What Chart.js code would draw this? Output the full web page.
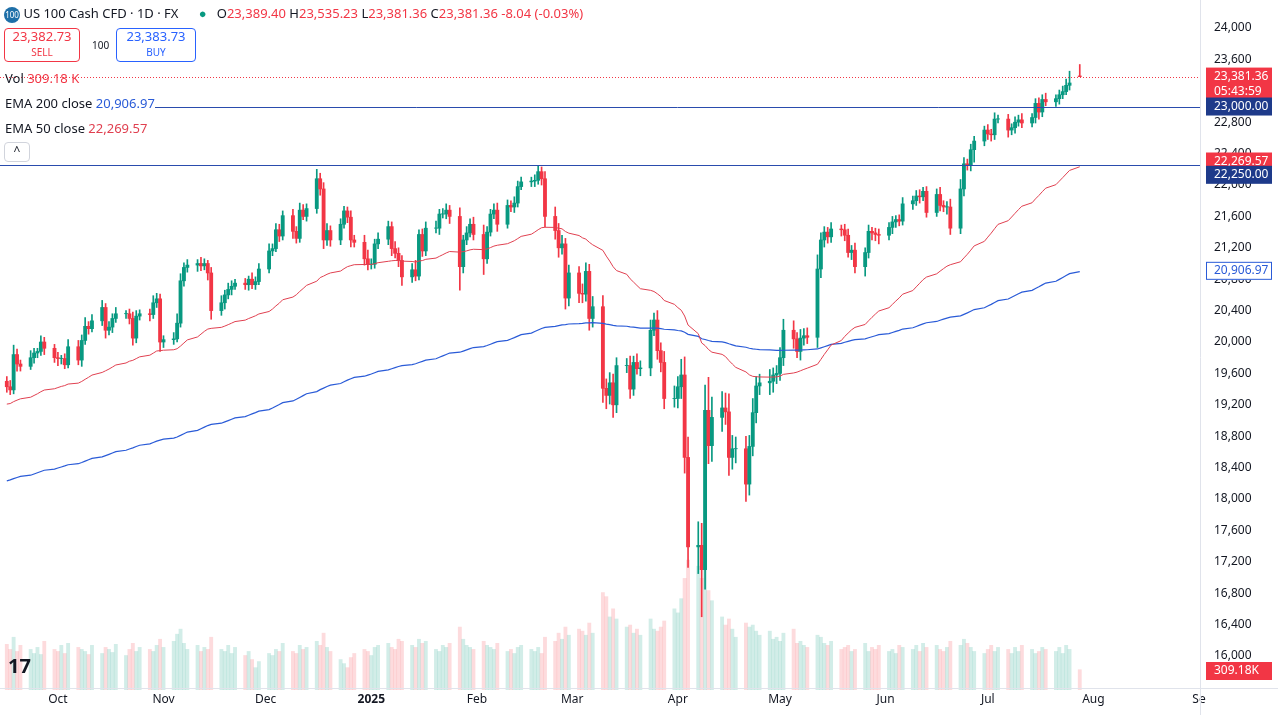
<!DOCTYPE html>
<html><head><meta charset="utf-8">
<script src="https://cdn.jsdelivr.net/npm/chart.js@4.4.1/dist/chart.umd.min.js"></script>
<style>
body{margin:0;background:#fff;font-family:"Noto Sans",Roboto,sans-serif;}
#wrap{position:relative;width:1278px;height:715px;}
canvas{position:absolute;left:0;top:0;}
.t{position:absolute;font-size:13px;color:#131722;white-space:nowrap;}
.box{position:absolute;border:1px solid;border-radius:4px;text-align:center;font-size:12px;line-height:15px;background:#fff;}
</style></head><body>
<div id="wrap"><canvas id="c" width="1278" height="715"></canvas>
<div class="t" style="left:4px;top:4px;"><span style="display:inline-block;width:16px;height:16px;border-radius:8px;background:#1e6fa8;color:#fff;font-size:8px;text-align:center;line-height:16px;vertical-align:middle">100</span> US 100 Cash CFD · 1D · FX &nbsp;&nbsp;&nbsp;&nbsp;&nbsp;<span style="color:#089981">●</span>&nbsp;&nbsp; O<span style="color:#f23645">23,389.40</span> H<span style="color:#f23645">23,535.23</span> L<span style="color:#f23645">23,381.36</span> C<span style="color:#f23645">23,381.36 -8.04 (-0.03%)</span></div>
<div class="box" style="left:4px;top:28px;width:74px;height:32px;border-color:#f23645;color:#f23645;"><span style="font-size:13px">23,382.73</span><br><span style="font-size:10px">SELL</span></div>
<div class="t" style="left:92px;top:38px;font-size:10px">100</div>
<div class="box" style="left:116px;top:28px;width:78px;height:32px;border-color:#2962ff;color:#2962ff;"><span style="font-size:13px">23,383.73</span><br><span style="font-size:10px">BUY</span></div>
<div class="t" style="left:5px;top:69px;">Vol <span style="color:#f23645">309.18 K</span></div>
<div class="t" style="left:5px;top:94px;">EMA 200 close <span style="color:#2a5bd7">20,906.97</span></div>
<div class="t" style="left:5px;top:119px;">EMA 50 close <span style="color:#e04050">22,269.57</span></div>
<div class="box" style="left:4px;top:142px;width:24px;height:18px;border-color:#d1d4dc;color:#131722;">^</div>
<div class="t" style="left:8px;top:652px;font-size:20px;font-weight:bold;">17</div>
</div>
<script>
const closes=[
19430,19390,19840,19720,19690, 19800,19860,19880,20000,19920, 19800,19790,19790,19710,19940,
19770,20020,20200,20170,20270, 20440,20150,20190,20300,20360, 20360,20300,20050,20330,20360,
20350,20500,20550,20000,20030, 20040,20240,20780,20950,20980, 21000,20970,21000,20880,20400,
20500,20600,20670,20710,20750, 20730,20800,20730,20770,20930, 21160,21190,21430,21350,21610,
21410,21320,21680,21600,21700, 22080,21950,21300,21420,21300, 21500,21670,21590,21300,21270,
21060,20990,20990,21250,21310, 21470,21190,21130,21040,20830, 20920,20840,21370,21160,21450,
21450,21630,21630,21680,21600, 20960,21300,21390,21500,21370, 21060,21400,21630,21680,21500,
21740,21720,21770,21980,22040, 22050,22060,22170,22080,21600, 21420,21200,21250,20560,20880,
20620,20610,20900,20300,20450, 19410,19320,19480,19200,19700, 19700,19400,19740,19660,19670,
20150,20280,19890,19740,19280, 19280,19430,19580,18530,17390, 17410,17100,19130,18680,19040,
19160,19110,18530,18640,18640, 18190,18670,19100,19440,19480, 19500,19580,19600,19800,20150,
20040,19880,20050,20080,20060, 20930,21300,21400,21340,21440, 21430,21360,21140,21170,20960,
21140,21410,21390,21370,21360, 21460,21530,21560,21540,21760, 21800,21860,21850,21920,21650,
21880,21740,21720,21720,21450, 21950,22270,22250,22450,22560, 22700,22650,22640,22840,22840,
22700,22730,22800,22830,22790, 22860,23040,22930,23090,23060, 23100,23150,23190,23270,23300,
23381];
const wickUp=[60,80,120,70,50,90,60,40,80,60,50,70,40,60,90,80,70,110,60,80,90,50,70,60,80,40,60,80,70,50,
60,90,70,60,50,80,120,90,60,70,50,80,60,40,70,90,60,80,70,50,60,40,80,60,70,90,60,80,70,60,
80,60,90,70,60,120,70,80,90,60,70,60,50,80,60,90,110,70,60,80,70,60,90,70,60,80,120,60,70,80,
90,60,70,80,60,110,60,80,70,90,120,70,60,80,90,70,60,80,70,60,50,70,80,60,90,120,90,110,70,100,
80,120,110,90,130,140,120,130,110,100,90,120,80,110,90,130,90,120,100,140,160,130,200,230,260,300,280,320,420,260,
210,190,230,170,150,160,140,180,120,110,150,90,100,130,140,120,80,110,90,100,180,90,70,60,80,50,70,80,60,90,
60,80,50,60,70,60,70,50,60,80,60,70,80,50,60,70,90,60,70,100,120,80,60,70,60,50,70,60,80,50,
60,50,70,60,80,50,60,70,60,80,50,60,70,80,150];
const wickDn=[70,60,50,90,60,40,70,60,50,80,60,90,70,50,40,60,80,50,70,40,60,100,60,70,50,60,70,90,60,50,
80,50,60,120,70,60,40,50,70,60,80,60,50,90,110,60,80,50,70,40,60,70,50,60,40,50,60,40,70,50,
90,60,50,40,60,60,80,110,70,80,60,50,70,90,60,80,70,60,50,60,70,90,60,80,110,70,60,50,70,60,
60,80,50,60,90,300,80,60,50,70,200,60,50,60,90,50,60,70,50,40,60,70,50,80,130,110,120,80,140,100,
120,110,90,150,110,180,170,110,160,100,90,120,80,70,90,100,70,110,120,130,110,120,150,200,260,340,600,250,230,200,
180,160,230,150,180,220,140,120,130,110,150,140,110,90,100,120,80,110,90,80,130,110,90,80,70,80,70,60,90,80,
120,70,90,80,110,60,80,70,60,50,70,60,80,50,60,50,70,60,90,80,70,90,60,70,160,60,70,80,60,50,
90,60,70,50,60,50,70,90,60,50,60,70,50,40,60,40];
const vols=[45,40,52,38,44,40,36,42,35,48,40,38,44,36,46,42,40,38,35,44,36,42,40,37,45,34,40,46,38,42,
40,38,44,50,42,48,55,60,46,40,44,38,42,40,52,40,38,44,36,42,34,38,30,22,28,36,34,40,38,46,
38,36,44,40,42,48,44,56,42,38,30,26,22,32,36,40,38,34,42,44,46,42,40,50,48,44,42,50,46,48,
40,38,44,42,46,62,50,44,42,40,48,44,42,40,46,38,40,36,42,44,40,38,42,36,52,48,56,50,62,54,
60,58,54,66,56,96,92,72,80,70,62,64,56,60,54,70,60,58,62,68,80,76,90,110,128,122,110,126,98,88,
72,64,70,60,52,66,62,64,58,54,58,50,52,48,56,60,46,48,44,42,54,52,46,44,48,40,42,44,38,40,
46,38,42,40,44,38,40,36,44,42,40,44,38,46,42,44,40,38,42,48,44,50,46,42,38,36,40,44,38,42,
40,36,42,38,44,40,36,38,42,40,38,42,36,44,40,20];
const monthTicks=[["2024-10-01","Oct"],["2024-11-01","Nov"],["2024-12-01","Dec"],["2025-01-01","2025"],["2025-02-01","Feb"],["2025-03-01","Mar"],["2025-04-01","Apr"],["2025-05-01","May"],["2025-06-01","Jun"],["2025-07-01","Jul"],["2025-08-01","Aug"],["2025-09-01","Se"]];
const priceTicks=[];for(let p=16000;p<=24000;p+=400)priceTicks.push(p);
const seed200=18220, seed50=19200;

const DAY=86400000, t0=Date.UTC(2024,8,16);
const dayNum=s=>(Date.parse(s+"T00:00:00Z")-t0)/DAY;
const xs=[];{let d=0;while(xs.length<closes.length){const wd=new Date(t0+d*DAY).getUTCDay();if(wd!==0&&wd!==6)xs.push(d);d++;}}
const opens=closes.map((c,i)=>i?closes[i-1]:19500);
opens[opens.length-1]=23389.4;
const up=closes.map((c,i)=>c>=opens[i]);
const hi=closes.map((c,i)=>Math.max(c,opens[i])+wickUp[i]);
const lo=closes.map((c,i)=>Math.min(c,opens[i])-wickDn[i]);
hi[hi.length-1]=23535.23;lo[lo.length-1]=23381.36;
function ema(n,seed){const k=2/(n+1);let e=seed;return closes.map(c=>(e=c*k+e*(1-k)));}
const e200=ema(200,seed200),e50=ema(50,seed50);
const G='#089981',R='#f23645';
const col=ctx=>up[ctx.dataIndex]?G:R;
const vcol=ctx=>up[ctx.dataIndex]?'rgba(8,153,129,0.18)':'rgba(242,54,69,0.18)';

const overlay={id:'ov',afterDraw(ch){
 const c=ch.ctx,y=ch.scales.y,x=ch.scales.x;
 c.save();
 c.strokeStyle='#2a4cad';c.lineWidth=1;
 [23000,22250].forEach(p=>{const yy=Math.round(y.getPixelForValue(p))+0.5;c.beginPath();c.moveTo(p===23000?155:0,yy);c.lineTo(1200,yy);c.stroke();});
 c.setLineDash([1,2]);c.strokeStyle=R;const yc=Math.round(y.getPixelForValue(23381.36))+0.5;c.beginPath();c.moveTo(0,yc);c.lineTo(1200,yc);c.stroke();c.setLineDash([]);
 c.font='12px "Noto Sans"';c.textBaseline='middle';c.fillStyle='#131722';
 priceTicks.forEach(p=>{c.fillText(p.toLocaleString('en-US'),1214,y.getPixelForValue(p));});
 c.textAlign='center';
 monthTicks.forEach(m=>{c.font=(m[1]==='2025'?'bold ':'')+'12px "Noto Sans"';c.fillText(m[1],x.getPixelForValue(dayNum(m[0])),700);});
 c.textAlign='left';c.font='12px "Noto Sans"';
 const box=(p,txt,bg,fg,h,border)=>{const yy=y.getPixelForValue(p);c.fillStyle=bg;c.fillRect(1206,yy-9,66,h||18);if(border){c.strokeStyle=border;c.strokeRect(1206.5,yy-8.5,65,17);}c.fillStyle=fg;c.fillText(txt,1214,yy);};
 box(23381.36,'23,381.36',R,'#fff',34);c.fillStyle='#fff';c.fillText('05:43:59',1214,y.getPixelForValue(23381.36)+15);
 box(23000,'23,000.00','#1e3a8a','#fff');
 box(22269.57+30,'22,269.57',R,'#fff');
 box(22250-120,'22,250.00','#1e3a8a','#fff');
 box(20906.97,'20,906.97','#fff','#2a5bd7',18,'#2a5bd7');
 c.fillStyle=R;c.fillRect(1206,662,66,18);c.fillStyle='#fff';c.fillText('309.18K',1214,671);
 c.strokeStyle='#e0e3eb';c.beginPath();c.moveTo(0,688.5);c.lineTo(1278,688.5);c.stroke();
 c.beginPath();c.moveTo(1200.5,0);c.lineTo(1200.5,715);c.stroke();
 c.restore();
}};

const xmin=-2,xmax=dayNum("2025-09-01")+0.3;
new Chart(document.getElementById('c'),{
 type:'bar',
 data:{datasets:[
  {type:'line',data:xs.map((x,i)=>({x,y:e50[i]})),borderColor:'#e04050',borderWidth:1,pointRadius:0,yAxisID:'y',order:1},
  {type:'line',data:xs.map((x,i)=>({x,y:e200[i]})),borderColor:'#2a5bd7',borderWidth:1.2,pointRadius:0,yAxisID:'y',order:1},
  {data:xs.map((x,i)=>({x,y:[lo[i],hi[i]]})),backgroundColor:col,barThickness:1,yAxisID:'y',grouped:false,order:3},
  {data:xs.map((x,i)=>({x,y:[opens[i],closes[i]===opens[i]?closes[i]+3:closes[i]]})),backgroundColor:col,barThickness:3.2,yAxisID:'y',grouped:false,order:2},
  {data:xs.map((x,i)=>({x,y:vols[i]})),backgroundColor:vcol,barThickness:3.2,yAxisID:'yv',grouped:false,order:4}
 ]},
 options:{responsive:false,animation:false,
  layout:{padding:{left:0,right:78,top:0,bottom:25}},
  plugins:{legend:{display:false},tooltip:{enabled:false}},
  scales:{
   x:{type:'linear',min:xmin,max:xmax,offset:false,display:false},
   y:{min:15567,max:24357,display:false},
   yv:{display:false,min:0,max:680}
  }},
 plugins:[overlay]
});
</script></body></html>
